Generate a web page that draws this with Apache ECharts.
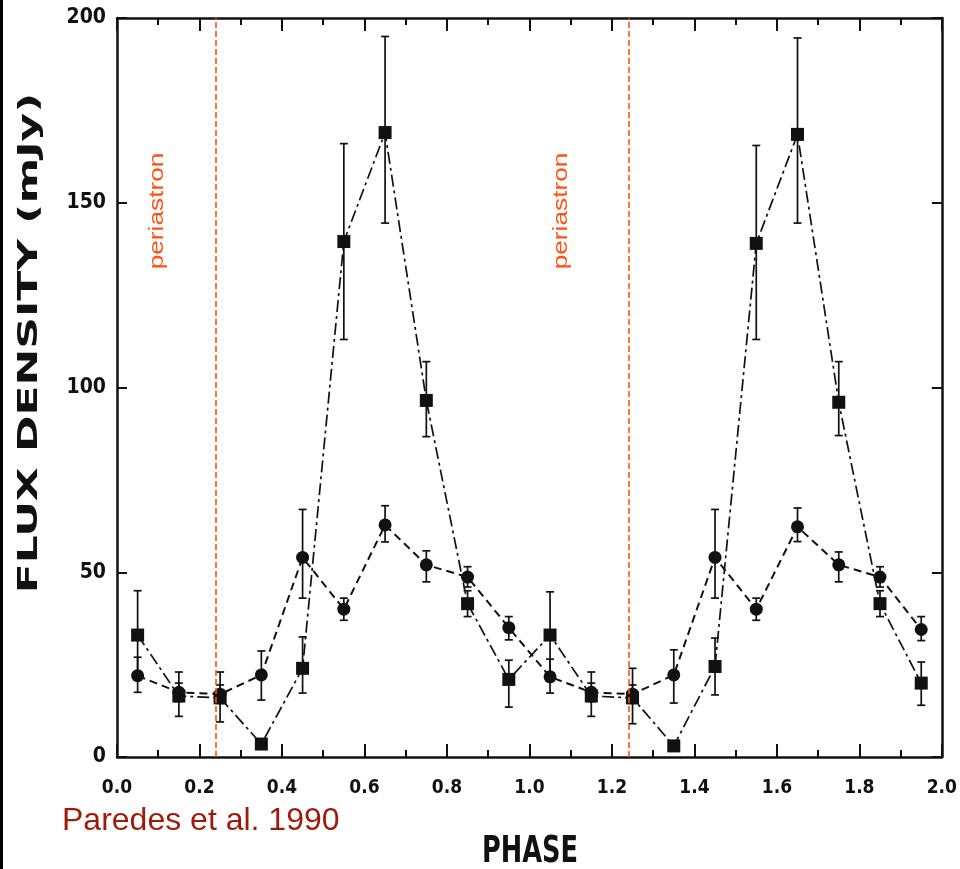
<!DOCTYPE html>
<html>
<head>
<meta charset="utf-8">
<script src="https://cdn.jsdelivr.net/npm/echarts@6/dist/echarts.min.js"></script>
<style>
  html, body { margin: 0; padding: 0; background: #ffffff; }
  #chart { width: 960px; height: 869px; }
</style>
</head>
<body>
<div id="chart"></div>
<script>
// ---- data ----
const phases = [0.05, 0.15, 0.25, 0.35, 0.45, 0.55, 0.65, 0.75, 0.85, 0.95,
                1.05, 1.15, 1.25, 1.35, 1.45, 1.55, 1.65, 1.75, 1.85, 1.95];

// series with the large outburst (dash-dot line)
const fluxA     = [33, 16.5, 16, 3.5, 24, 139.5, 169, 96.5, 41.5, 21,
                   33, 16.5, 16, 3, 24.5, 139, 168.5, 96, 41.5, 20];
const fluxALow  = [21, 11, 9.5, null, 17.3, 113, 144.5, 86.7, 38, 13.5,
                   21, 11, 9, null, 16.8, 113, 144.5, 87, 38, 14];
const fluxAHigh = [45, 23, 23, null, 32.5, 166, 195, 107, 45, 26.2,
                   44.7, 23, 24, null, 32.2, 165.5, 194.6, 107, 45, 25.7];

// series with the moderate maximum (dashed line)
const fluxB     = [22, 17.5, 17, 22.2, 54, 40, 62.8, 52, 48.7, 35,
                   21.7, 17.5, 17, 22.2, 54, 40, 62.3, 52, 48.7, 34.5];
const fluxBLow  = [17.5, 15, 14.5, 15.4, 43, 37, 58.2, 47.4, 46, 31.7,
                   17.3, 15, 14.5, 14.6, 43, 37, 58.3, 47.4, 46, 31.5];
const fluxBHigh = [27, 20, 19.5, 28.7, 67, 43, 68, 55.8, 51.5, 38,
                   26.5, 20, 19.5, 29, 67, 43, 67.4, 55.5, 51.5, 38];

const periastronPhases = [0.24, 1.235];
const yTickValues = [0, 50, 100, 150, 200];

// ---- helpers building library structures from the arrays ----
function pairs(vals) { return phases.map((p, i) => [p, vals[i]]); }
function bars(lo, hi) {
  const out = [];
  phases.forEach((p, i) => { if (lo[i] != null && hi[i] != null) out.push([p, lo[i], hi[i]]); });
  return out;
}
function errorRender(params, api) {
  const x = api.value(0);
  const p1 = api.coord([x, api.value(1)]);
  const p2 = api.coord([x, api.value(2)]);
  const cap = 4;
  const st = { stroke: '#111', lineWidth: 1.7 };
  return {
    type: 'group',
    children: [
      { type: 'line', shape: { x1: p1[0], y1: p1[1], x2: p2[0], y2: p2[1] }, style: st },
      { type: 'line', shape: { x1: p1[0] - cap, y1: p1[1], x2: p1[0] + cap, y2: p1[1] }, style: st },
      { type: 'line', shape: { x1: p2[0] - cap, y1: p2[1], x2: p2[0] + cap, y2: p2[1] }, style: st }
    ]
  };
}

const tickFont = '"Liberation Sans Narrow", "DejaVu Sans Condensed", sans-serif';
const axisColor = '#111';

function xAxisDef(pos, showLabel) {
  return {
    type: 'value', position: pos, min: 0, max: 2, interval: 0.2,
    axisLine: { show: true, onZero: false, lineStyle: { color: axisColor, width: 2.5 } },
    axisTick: { show: true, inside: true, length: 13, lineStyle: { color: axisColor, width: 2 } },
    minorTick: { show: true, splitNumber: 2, length: 7, lineStyle: { color: axisColor, width: 2 } },
    axisLabel: {
      show: showLabel, margin: 22, color: '#111', fontFamily: tickFont, fontWeight: 'bold', fontSize: 19,
      formatter: v => v.toFixed(1)
    },
    splitLine: { show: false }
  };
}
function yAxisDef(pos, showLabel) {
  return {
    type: 'value', position: pos, min: 0, max: 200, interval: 50,
    axisLine: { show: true, onZero: false, lineStyle: { color: axisColor, width: 2.5 } },
    axisTick: { show: true, inside: true, length: 10, lineStyle: { color: axisColor, width: 2 } },
    axisLabel: {
      show: showLabel, margin: 11, color: '#111', fontFamily: tickFont, fontWeight: 'bold', fontSize: 21,
      formatter: v => (yTickValues.indexOf(v) >= 0 ? String(v) : '')
    },
    splitLine: { show: false }
  };
}

const chart = echarts.init(document.getElementById('chart'), null, { renderer: 'canvas' });
chart.setOption({
  animation: false,
  backgroundColor: '#ffffff',
  grid: { left: 117, top: 18, right: 12, bottom: 112, containLabel: false },
  xAxis: [xAxisDef('bottom', true), xAxisDef('top', false)],
  yAxis: [yAxisDef('left', true), yAxisDef('right', false)],
  series: [
    {
      name: 'errA', type: 'custom', xAxisIndex: 0, yAxisIndex: 0,
      renderItem: errorRender, data: bars(fluxALow, fluxAHigh), z: 3, silent: true
    },
    {
      name: 'errB', type: 'custom', xAxisIndex: 0, yAxisIndex: 0,
      renderItem: errorRender, data: bars(fluxBLow, fluxBHigh), z: 3, silent: true
    },
    {
      name: 'A', type: 'line', xAxisIndex: 0, yAxisIndex: 0, data: pairs(fluxA),
      symbol: 'rect', symbolSize: 13, showAllSymbol: true,
      itemStyle: { color: '#111' },
      lineStyle: { color: '#111', width: 1.7, type: [12, 4, 3, 4] },
      z: 4,
      markLine: {
        silent: true, symbol: ['none', 'none'],
        label: { show: false },
        lineStyle: { color: '#ff5214', width: 1.6, type: [6, 3] },
        data: periastronPhases.map(p => ({ xAxis: p }))
      }
    },
    {
      name: 'B', type: 'line', xAxisIndex: 0, yAxisIndex: 0, data: pairs(fluxB),
      symbol: 'circle', symbolSize: 13, showAllSymbol: true,
      itemStyle: { color: '#111' },
      lineStyle: { color: '#111', width: 2, type: [8, 5] },
      z: 4
    }
  ],
  graphic: [
    { type: 'rect', left: 0, top: 0, shape: { width: 3, height: 869 }, style: { fill: '#000' }, silent: true },
    {
      type: 'text', x: 30, y: 343, rotation: Math.PI / 2, scaleX: 1.69,
      style: { text: 'FLUX DENSITY (mJy)', fill: '#111', font: 'bold 26px "DejaVu Sans"', align: 'center', verticalAlign: 'middle' }
    },
    {
      type: 'text', x: 530, y: 852, scaleX: 0.675,
      style: { text: 'PHASE', fill: '#111', font: 'bold 38px "DejaVu Sans"', align: 'center', verticalAlign: 'middle' }
    },
    {
      type: 'text', x: 157, y: 211, rotation: Math.PI / 2, scaleX: 1.25,
      style: { text: 'periastron', fill: '#ff5214', font: '21px "Liberation Sans"', align: 'center', verticalAlign: 'middle' }
    },
    {
      type: 'text', x: 561, y: 211, rotation: Math.PI / 2, scaleX: 1.25,
      style: { text: 'periastron', fill: '#ff5214', font: '21px "Liberation Sans"', align: 'center', verticalAlign: 'middle' }
    },
    {
      type: 'text', x: 62, y: 821,
      style: { text: 'Paredes et al. 1990', fill: '#9e1a0a', font: '32px "Liberation Sans"', align: 'left', verticalAlign: 'middle' }
    }
  ]
});
</script>
</body>
</html>
